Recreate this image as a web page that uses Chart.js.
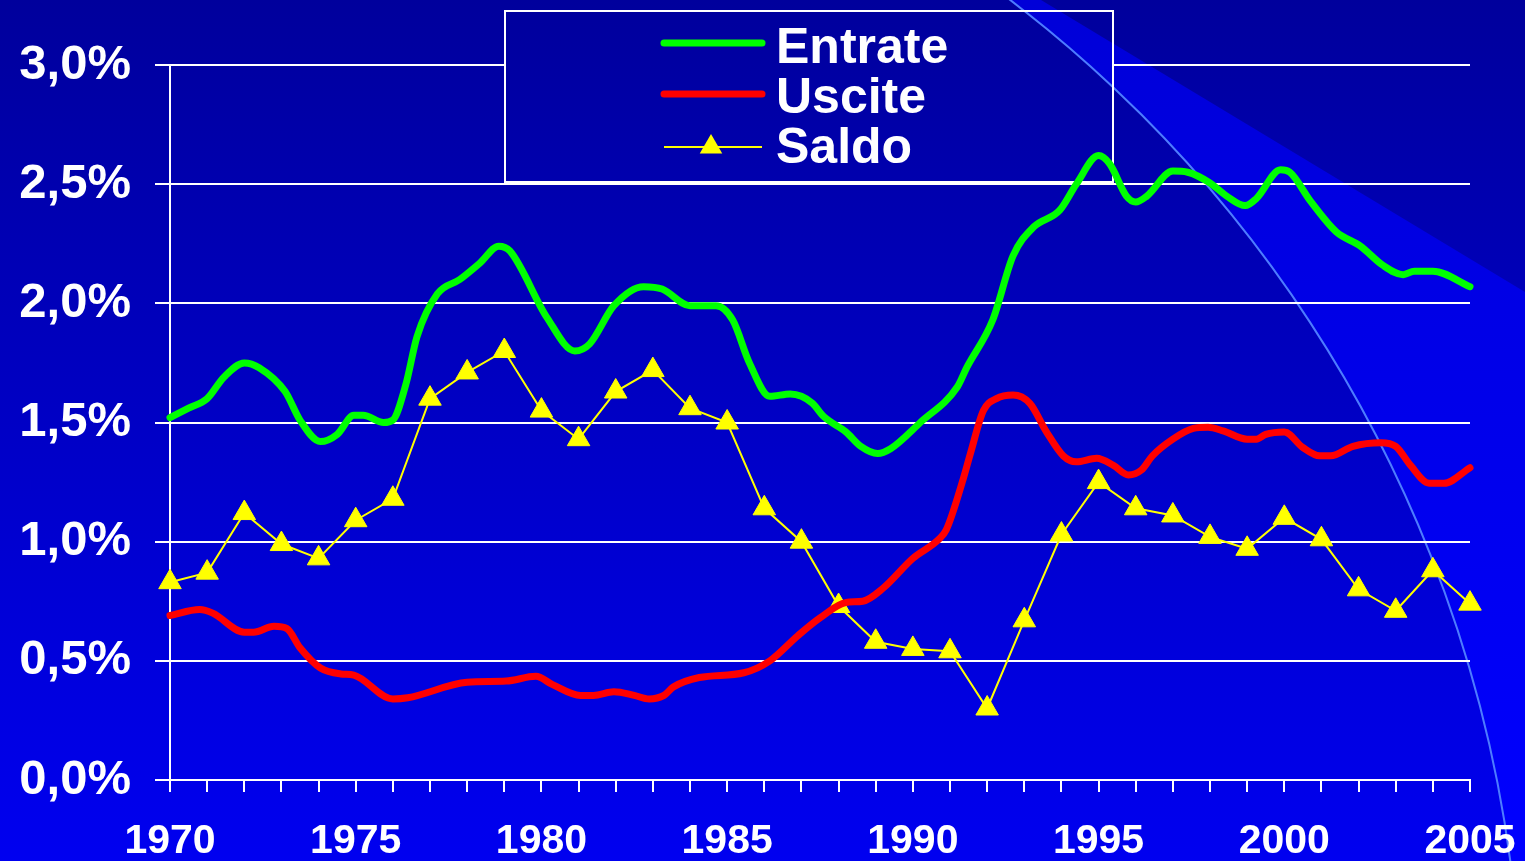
<!DOCTYPE html>
<html lang="it">
<head>
<meta charset="utf-8">
<title>Entrate, Uscite, Saldo</title>
<script src="https://cdn.jsdelivr.net/npm/chart.js@4.4.1/dist/chart.umd.min.js"></script>
<style>
  html, body { margin: 0; padding: 0; background: #0000a0; }
  #wrap { width: 1525px; height: 861px; position: relative; }
</style>
</head>
<body>
<div id="wrap"><canvas id="chart"></canvas></div>
<script>
const FONT = '"Liberation Sans", Arial, sans-serif'
const W = 1525, H = 861

// Entrate (smooth line)
const entrateX = [1970, 1970.5, 1971, 1971.45, 1972, 1972.4, 1973.1, 1973.5, 1974.05, 1974.5, 1974.95, 1975.2, 1975.75, 1976,
  1976.35, 1976.65, 1977.2, 1977.8, 1978.35, 1978.85, 1979.15, 1980.15, 1980.9, 1981.3, 1981.95, 1982.75, 1983.25, 1984,
  1984.7, 1985.15, 1985.6, 1986.15, 1986.7, 1987, 1987.3, 1987.6, 1988.2, 1988.6, 1989.05, 1989.4, 1990.2, 1991.2, 1991.45,
  1992.15, 1992.7, 1993.25, 1993.95, 1994.4, 1995, 1995.3, 1995.75, 1996, 1996.3, 1997, 1997.4, 1998, 1998.45, 1998.95,
  1999.25, 1999.9, 2000.15, 2000.7, 2001.4, 2002.05, 2002.65, 2003.2, 2003.5, 2004, 2005]
const entrateY = [1.52, 1.56, 1.60, 1.69, 1.75, 1.73, 1.63, 1.51, 1.42, 1.45, 1.53, 1.53, 1.50, 1.51,
  1.66, 1.86, 2.04, 2.10, 2.17, 2.24, 2.22, 1.94, 1.80, 1.83, 1.99, 2.07, 2.06, 1.99,
  1.99, 1.93, 1.75, 1.61, 1.62, 1.61, 1.58, 1.525, 1.46, 1.40, 1.37, 1.39, 1.50, 1.65, 1.73,
  1.93, 2.20, 2.32, 2.39, 2.50, 2.62, 2.585, 2.45, 2.425, 2.45, 2.555, 2.55, 2.505, 2.45, 2.41,
  2.44, 2.56, 2.55, 2.43, 2.30, 2.24, 2.16, 2.12, 2.135, 2.135, 2.07]

// Uscite (smooth line)
const usciteX = [1970, 1970.8, 1971.15, 1972, 1972.25, 1972.8, 1973.15, 1973.5, 1974.05, 1974.6, 1974.95, 1976, 1976.4,
  1978, 1979.05, 1979.85, 1980.3, 1981.05, 1981.4, 1981.95, 1982.5, 1982.9, 1983.3, 1983.55, 1984.25, 1985.45, 1986.15,
  1986.9, 1987.5, 1988.2, 1988.65, 1989.2, 1990, 1990.7, 1990.9, 1991.35, 1991.55, 1991.9, 1992.25, 1992.7, 1993.15,
  1993.6, 1994.05, 1994.4, 1994.95, 1995.4, 1995.8, 1996.15, 1996.45, 1997, 1997.55, 1997.95, 1998.35, 1999, 1999.25,
  1999.5, 2000, 2000.5, 2000.95, 2001.25, 2001.85, 2002.6, 2003, 2003.4, 2003.9, 2004.3, 2005]
const usciteY = [0.69, 0.715, 0.70, 0.62, 0.62, 0.645, 0.635, 0.555, 0.47, 0.445, 0.44, 0.34, 0.345,
  0.41, 0.415, 0.435, 0.40, 0.355, 0.355, 0.37, 0.355, 0.34, 0.355, 0.39, 0.43, 0.45, 0.50,
  0.605, 0.68, 0.745, 0.75, 0.805, 0.93, 1.01, 1.05, 1.26, 1.37, 1.55, 1.60, 1.615, 1.58,
  1.46, 1.36, 1.335, 1.35, 1.32, 1.28, 1.30, 1.36, 1.43, 1.475, 1.48, 1.465, 1.43, 1.43,
  1.45, 1.46, 1.395, 1.36, 1.36, 1.40, 1.415, 1.40, 1.32, 1.245, 1.245, 1.31]

// Saldo (one point per year)
const saldoX = [1970, 1971, 1972, 1973, 1974, 1975, 1976, 1977, 1978, 1979, 1980, 1981, 1982, 1983, 1984, 1985, 1986, 1987,
  1988, 1989, 1990, 1991, 1992, 1993, 1994, 1995, 1996, 1997, 1998, 1999, 2000, 2001, 2002, 2003, 2004, 2005]
const saldoY = [0.83, 0.87, 1.12, 0.99, 0.93, 1.09, 1.18, 1.60, 1.71, 1.80, 1.55, 1.43, 1.63, 1.72, 1.56, 1.50, 1.14, 1.00,
  0.73, 0.58, 0.55, 0.54, 0.30, 0.67, 1.03, 1.25, 1.14, 1.11, 1.02, 0.97, 1.10, 1.01, 0.80, 0.71, 0.88, 0.74]

const toPoints = (xs, ys) => xs.map((x, i) => ({ x, y: ys[i] }))

// big arc of the slide background
const ARC = { x: 223.5, y: 1032.4, r: 1298 }

function paintBackground(ctx) {
  const bg = ctx.createLinearGradient(0, 0, 0, H)
  bg.addColorStop(0, '#00009c')
  bg.addColorStop(1, '#0000f0')
  ctx.fillStyle = bg
  ctx.fillRect(0, 0, W, H)

  // lighter band outside the arc, below the diagonal
  ctx.save()
  ctx.beginPath()
  ctx.moveTo(0, 0); ctx.lineTo(1041, 0); ctx.lineTo(W, 292); ctx.lineTo(W, H); ctx.lineTo(0, H); ctx.closePath()
  ctx.clip()
  const band = ctx.createLinearGradient(0, 0, 0, H)
  band.addColorStop(0, '#0000d8')
  band.addColorStop(1, '#0000ff')
  ctx.fillStyle = band
  ctx.beginPath()
  ctx.rect(0, 0, W, H)
  ctx.arc(ARC.x, ARC.y, ARC.r, 0, Math.PI * 2)
  ctx.fill('evenodd')
  ctx.restore()

  ctx.beginPath()
  ctx.arc(ARC.x, ARC.y, ARC.r, -Math.PI / 2, 0)
  ctx.strokeStyle = '#4d7cff'
  ctx.lineWidth = 2
  ctx.stroke()
}

const background = {
  id: 'background',
  beforeDraw(chart) { paintBackground(chart.ctx) },
}

// boxed legend sitting over the grid but under the lines
const legendBox = {
  id: 'legendBox',
  beforeDatasetsDraw(chart) {
    const ctx = chart.ctx
    const x0 = 505, y0 = 11, x1 = 1113, y1 = 182
    const rows = [{ line: 43, base: 63 }, { line: 94, base: 113 }, { line: 147, base: 163 }]
    ctx.save()
    ctx.beginPath(); ctx.rect(x0, y0, x1 - x0, y1 - y0); ctx.clip()
    paintBackground(ctx)
    ctx.restore()

    ctx.save()
    ctx.strokeStyle = '#fff'
    ctx.lineWidth = 2
    ctx.strokeRect(x0, y0, x1 - x0, y1 - y0)
    chart.data.datasets.forEach((ds, i) => {
      const r = rows[i]
      ctx.beginPath()
      ctx.moveTo(664, r.line); ctx.lineTo(762, r.line)
      ctx.strokeStyle = ds.borderColor
      ctx.lineWidth = ds.borderWidth
      ctx.lineCap = ds.pointRadius ? 'butt' : 'round'
      ctx.stroke()
      if (ds.pointRadius) {
        const s = ds.pointRadius
        ctx.beginPath()
        ctx.moveTo(711, r.line - s)
        ctx.lineTo(711 + s * 0.866, r.line + s / 2)
        ctx.lineTo(711 - s * 0.866, r.line + s / 2)
        ctx.closePath()
        ctx.fillStyle = ds.pointBackgroundColor
        ctx.fill()
      }
      ctx.fillStyle = '#fff'
      ctx.font = 'bold 50px ' + FONT
      ctx.textBaseline = 'alphabetic'
      ctx.fillText(ds.label, 776, r.base)
    })
    ctx.restore()
  },
}

new Chart(document.getElementById('chart'), {
  type: 'line',
  data: {
    datasets: [
      {
        label: 'Entrate', data: toPoints(entrateX, entrateY),
        borderColor: '#00ff00', borderWidth: 7, pointRadius: 0,
        cubicInterpolationMode: 'monotone', borderCapStyle: 'round', borderJoinStyle: 'round', clip: false,
      },
      {
        label: 'Uscite', data: toPoints(usciteX, usciteY),
        borderColor: '#ff0000', borderWidth: 7, pointRadius: 0,
        cubicInterpolationMode: 'monotone', borderCapStyle: 'round', borderJoinStyle: 'round', clip: false,
      },
      {
        label: 'Saldo', data: toPoints(saldoX, saldoY),
        borderColor: '#ffff00', borderWidth: 2, tension: 0,
        pointStyle: 'triangle', pointRadius: 13, pointBackgroundColor: '#ffff00',
        pointBorderColor: '#ffff00', pointBorderWidth: 1, clip: false,
      },
    ],
  },
  options: {
    responsive: true,
    maintainAspectRatio: false,
    animation: false,
    layout: { padding: { top: 65, right: 55, left: 0, bottom: 0 } },
    plugins: { legend: { display: false }, tooltip: { enabled: false } },
    scales: {
      x: {
        type: 'linear', min: 1970, max: 2005,
        ticks: {
          stepSize: 1, autoSkip: false, maxRotation: 0, padding: 25, color: '#fff',
          font: { family: FONT, size: 41, weight: 'bold' },
          callback: v => (v % 5 === 0 ? String(v) : ''),
        },
        grid: { drawOnChartArea: false, drawTicks: true, tickLength: 12, color: '#fff', lineWidth: 2 },
        border: { color: '#fff', width: 2 },
        afterFit: s => { s.height = 81; s.paddingLeft = 0; s.paddingRight = 0 },
      },
      y: {
        min: 0, max: 3,
        ticks: {
          stepSize: 0.5, padding: 24, color: '#fff',
          font: { family: FONT, size: 49, weight: 'bold' },
          callback: v => v.toFixed(1).replace('.', ',') + '%',
        },
        grid: { color: '#fff', lineWidth: 2, tickLength: 15 },
        border: { color: '#fff', width: 2 },
        afterFit: s => { s.width = 170 },
      },
    },
  },
  plugins: [background, legendBox],
})
</script>
</body>
</html>
